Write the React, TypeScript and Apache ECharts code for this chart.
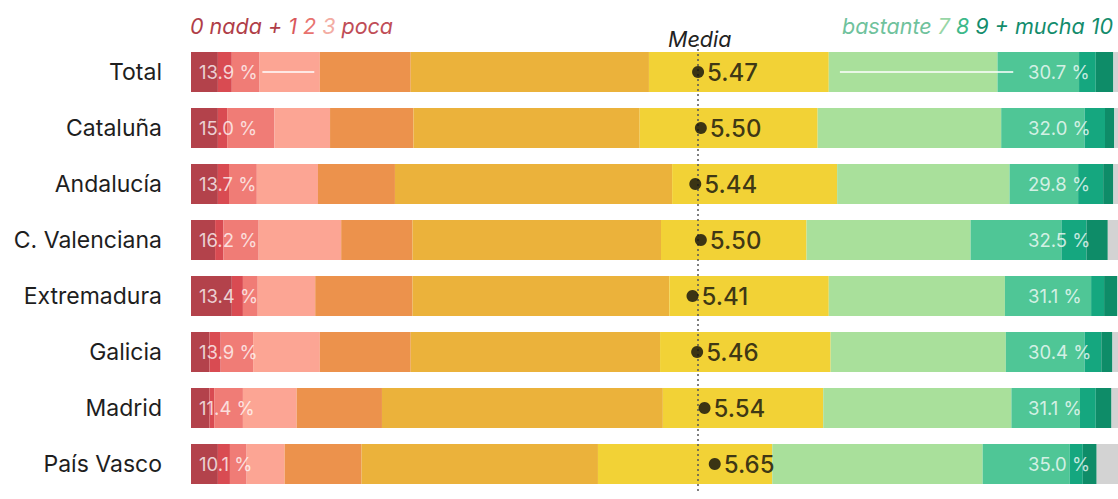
import React, { useEffect, useRef } from "react";
import * as echarts from "echarts";

const categories = ["Total", "Cataluña", "Andalucía", "C. Valenciana", "Extremadura", "Galicia", "Madrid", "País Vasco"];

// shares (%) of answers 0..10 and NS/NC, per region
const total = [2.9, 1.5, 3.0, 6.5, 9.8, 25.7, 19.4, 18.2, 8.8, 1.8, 1.9, 0.5];
const cataluna = [2.9, 1.0, 5.1, 6.0, 9.0, 24.4, 19.2, 19.8, 9.0, 2.2, 1.0, 0.4];
const andalucia = [2.9, 1.2, 3.0, 6.6, 8.3, 29.9, 17.8, 18.6, 7.4, 2.7, 1.1, 0.5];
const valenciana = [2.6, 0.9, 3.8, 8.9, 7.7, 26.8, 15.7, 17.7, 9.8, 2.7, 2.3, 1.1];
const extremadura = [4.4, 1.2, 1.6, 6.2, 10.5, 27.7, 17.2, 19.0, 9.3, 1.4, 1.4, 0.1];
const galicia = [2.0, 1.2, 3.5, 7.2, 9.8, 26.9, 18.4, 18.9, 8.5, 1.8, 1.2, 0.6];
const madrid = [2.0, 0.5, 3.1, 5.8, 9.2, 30.3, 17.3, 20.3, 7.4, 1.7, 1.7, 0.7];
const paisVasco = [2.9, 1.3, 1.8, 4.1, 8.3, 25.5, 18.8, 22.7, 9.4, 1.4, 1.5, 2.3];

const pocaShares = [13.9, 15.0, 13.7, 16.2, 13.4, 13.9, 11.4, 10.1];
const muchaShares = [30.7, 32.0, 29.8, 32.5, 31.1, 30.4, 31.1, 35.0];
const means = [5.47, 5.5, 5.44, 5.5, 5.41, 5.46, 5.54, 5.65];
const scoreNames = ["0", "1", "2", "3", "4", "5", "6", "7", "8", "9", "10", "NS/NC"];

const colors = [
  "#b3424b", "#d94b52", "#f07c76", "#fca594", "#ec924c", "#ebb23b",
  "#f2d236", "#a9e09b", "#4fc696", "#15a77f", "#0e8c68", "#d3d3d3",
];

const FONT = "Inter, 'Noto Sans', sans-serif";
const HEAD = `italic 21.5px ${FONT}`;

export default function App() {
  const ref = useRef<HTMLDivElement>(null);
  useEffect(() => {
    if (!ref.current) return;
    const chart = echarts.init(ref.current, undefined, { renderer: "svg" });
    const rows = [total, cataluna, andalucia, valenciana, extremadura, galicia, madrid, paisVasco];
    const barSeries = scoreNames.map((name, k) => ({
      type: "bar",
      name,
      stack: "all",
      barWidth: 40,
      xAxisIndex: 0,
      yAxisIndex: 0,
      itemStyle: { color: colors[k] },
      data: rows.map((r) => r[k]),
      z: 2,
    }));
    const textWhite = "rgba(255,255,255,0.95)";
    chart.setOption({
      animation: false,
      backgroundColor: "#ffffff",
      grid: { left: 191, right: 0, top: 44, height: 448 },
      xAxis: [
        { type: "value", min: 0, max: 100, show: false },
        { type: "value", min: 0, max: 10, show: false },
      ],
      yAxis: {
        type: "category",
        inverse: true,
        data: categories,
        axisLine: { show: false },
        axisTick: { show: false },
        splitLine: { show: false },
        axisLabel: { fontSize: 23, color: "#1e1e1e", margin: 29, fontFamily: FONT },
      },
      series: [
        ...barSeries,
        {
          type: "scatter",
          name: "poca",
          xAxisIndex: 0,
          symbolSize: 0,
          z: 5,
          data: pocaShares.map((v, i) => [0, categories[i], v]),
          label: {
            show: true,
            position: "right",
            distance: 8,
            fontSize: 18.5,
            fontFamily: FONT,
            color: textWhite,
            formatter: (p: any) => p.value[2].toFixed(1) + " %",
          },
          markLine: {
            silent: true,
            symbol: "none",
            z: 5,
            label: { show: false },
            lineStyle: { color: "#ffffff", width: 1.5, type: "solid" },
            data: [
              [{ coord: [7.7, "Total"] }, { coord: [13.3, "Total"] }],
              [{ coord: [70.0, "Total"] }, { coord: [88.7, "Total"] }],
            ],
          },
        },
        {
          type: "scatter",
          name: "mucha",
          xAxisIndex: 0,
          symbolSize: 0,
          z: 5,
          data: muchaShares.map((v, i) => [90.3, categories[i], v]),
          label: {
            show: true,
            position: "right",
            distance: 0,
            fontSize: 18.5,
            fontFamily: FONT,
            color: textWhite,
            formatter: (p: any) => p.value[2].toFixed(1) + " %",
          },
        },
        {
          type: "scatter",
          name: "Media",
          xAxisIndex: 1,
          symbol: "circle",
          symbolSize: 12,
          z: 6,
          itemStyle: { color: "#0d0d0d" },
          data: means.map((v, i) => [v, categories[i]]),
          label: {
            show: true,
            position: "right",
            distance: 3,
            fontSize: 24,
            fontWeight: 500,
            fontFamily: FONT,
            color: "#0d0d0d",
            formatter: (p: any) => p.value[0].toFixed(2),
          },
          markLine: {
            silent: true,
            symbol: "none",
            z: 4,
            label: { show: false },
            lineStyle: { color: "#555", width: 1.5, type: [2, 3] },
            data: [{ xAxis: means[0] }],
          },
        },
      ],
      graphic: [
        {
          type: "text",
          left: 668,
          top: 28,
          style: { text: "Media", font: HEAD, fill: "#222" },
        },
        {
          type: "text",
          left: 190,
          top: 15,
          style: {
            text: "{a|0 nada + }{b|1 }{c|2 }{d|3 }{e|poca}",
            font: HEAD,
            rich: {
              a: { fill: "#b03e48", font: HEAD },
              b: { fill: "#d9585c", font: HEAD },
              c: { fill: "#e8736f", font: HEAD },
              d: { fill: "#f3ada3", font: HEAD },
              e: { fill: "#c04d57", font: HEAD },
            },
          },
        },
        {
          type: "text",
          right: 5,
          top: 15,
          style: {
            text: "{a|bastante }{b|7 }{c|8 }{d|9 + mucha 10}",
            font: HEAD,
            rich: {
              a: { fill: "#6fc29c", font: HEAD },
              b: { fill: "#98d6a6", font: HEAD },
              c: { fill: "#3db98a", font: HEAD },
              d: { fill: "#138c6c", font: HEAD },
            },
          },
        },
      ],
    });
    return () => chart.dispose();
  }, []);
  return <div ref={ref} style={{ position: "fixed", left: 0, top: 0, width: 1118, height: 499, background: "#fff" }} />;
}
